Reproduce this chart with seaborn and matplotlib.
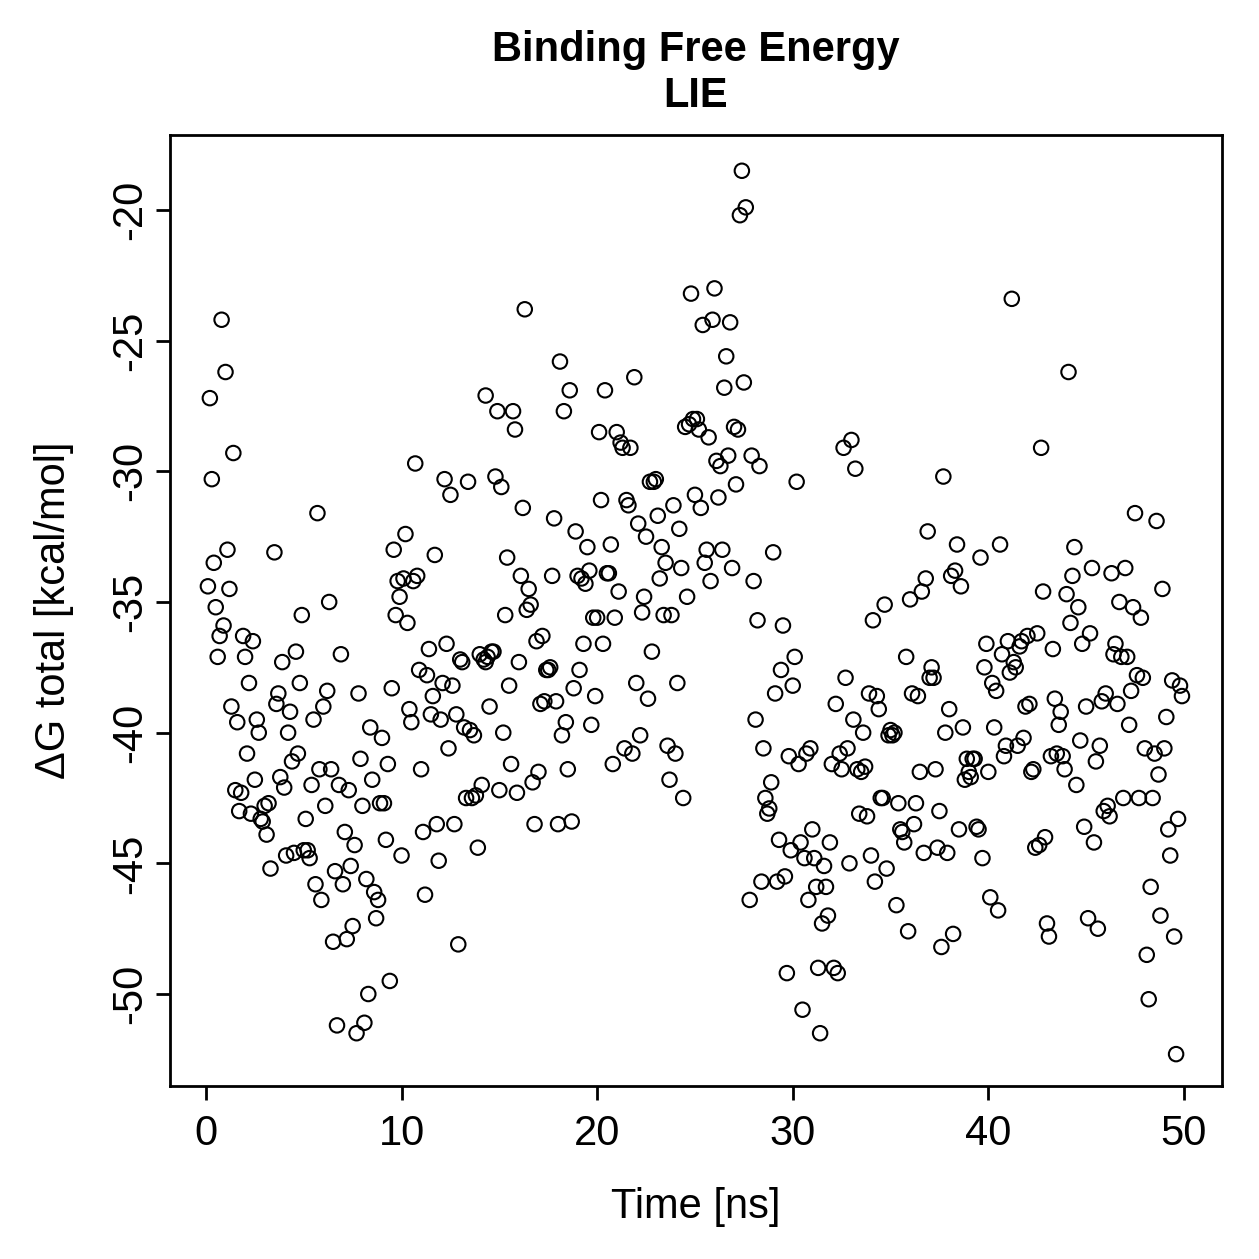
import numpy as np
import pandas as pd
import matplotlib
matplotlib.use("Agg")
import matplotlib.pyplot as plt
import seaborn as sns

# Time axis (ns) and LIE binding free energy (kcal/mol)
time_ns = [
    0.1, 0.2, 0.3, 0.4, 0.5, 0.6, 0.7, 0.8, 0.9, 1.0,
    1.1, 1.2, 1.3, 1.4, 1.5, 1.6, 1.7, 1.8, 1.9, 2.0,
    2.1, 2.2, 2.3, 2.4, 2.5, 2.6, 2.7, 2.8, 2.9, 3.0,
    3.1, 3.2, 3.3, 3.5, 3.6, 3.7, 3.8, 3.9, 4.0, 4.1,
    4.2, 4.3, 4.4, 4.5, 4.6, 4.7, 4.8, 4.9, 5.0, 5.1,
    5.2, 5.3, 5.4, 5.5, 5.6, 5.7, 5.8, 5.9, 6.0, 6.1,
    6.2, 6.3, 6.4, 6.5, 6.6, 6.7, 6.8, 6.9, 7.0, 7.1,
    7.2, 7.3, 7.4, 7.5, 7.6, 7.7, 7.8, 7.9, 8.0, 8.1,
    8.2, 8.3, 8.4, 8.5, 8.6, 8.7, 8.8, 8.9, 9.0, 9.1,
    9.2, 9.3, 9.4, 9.5, 9.6, 9.7, 9.8, 9.9, 10.0, 10.1,
    10.2, 10.3, 10.4, 10.5, 10.6, 10.7, 10.8, 10.9, 11.0, 11.1,
    11.2, 11.3, 11.4, 11.5, 11.6, 11.7, 11.8, 11.9, 12.0, 12.1,
    12.2, 12.3, 12.4, 12.5, 12.6, 12.7, 12.8, 12.9, 13.0, 13.1,
    13.2, 13.3, 13.4, 13.5, 13.6, 13.7, 13.8, 13.9, 14.0, 14.1,
    14.2, 14.3, 14.3, 14.4, 14.5, 14.6, 14.7, 14.8, 14.9, 15.0,
    15.1, 15.2, 15.3, 15.4, 15.5, 15.6, 15.7, 15.8, 15.9, 16.0,
    16.1, 16.2, 16.3, 16.4, 16.5, 16.6, 16.7, 16.8, 16.9, 17.0,
    17.1, 17.2, 17.3, 17.4, 17.5, 17.6, 17.7, 17.8, 17.9, 18.0,
    18.1, 18.2, 18.3, 18.4, 18.5, 18.6, 18.7, 18.8, 18.9, 19.0,
    19.1, 19.2, 19.3, 19.4, 19.5, 19.6, 19.7, 19.8, 19.9, 20.0,
    20.1, 20.2, 20.3, 20.4, 20.5, 20.6, 20.7, 20.8, 20.9, 21.0,
    21.1, 21.2, 21.3, 21.4, 21.5, 21.6, 21.7, 21.8, 21.9, 22.0,
    22.1, 22.2, 22.3, 22.4, 22.5, 22.6, 22.7, 22.8, 22.9, 23.0,
    23.1, 23.2, 23.3, 23.4, 23.5, 23.6, 23.7, 23.8, 23.9, 24.0,
    24.1, 24.2, 24.3, 24.4, 24.5, 24.6, 24.7, 24.8, 24.9, 25.0,
    25.1, 25.2, 25.3, 25.4, 25.5, 25.6, 25.7, 25.8, 25.9, 26.0,
    26.1, 26.2, 26.3, 26.4, 26.5, 26.6, 26.7, 26.8, 26.9, 27.0,
    27.1, 27.2, 27.3, 27.4, 27.5, 27.6, 27.8, 27.9, 28.0, 28.1,
    28.2, 28.3, 28.4, 28.5, 28.6, 28.7, 28.8, 28.9, 29.0, 29.1,
    29.2, 29.3, 29.4, 29.5, 29.6, 29.7, 29.8, 29.9, 30.0, 30.1,
    30.2, 30.3, 30.4, 30.5, 30.6, 30.7, 30.8, 30.9, 31.0, 31.1,
    31.2, 31.3, 31.4, 31.5, 31.6, 31.7, 31.8, 31.9, 32.0, 32.1,
    32.2, 32.3, 32.4, 32.5, 32.6, 32.7, 32.8, 32.9, 33.0, 33.1,
    33.2, 33.3, 33.4, 33.5, 33.6, 33.7, 33.8, 33.9, 34.0, 34.1,
    34.2, 34.3, 34.4, 34.5, 34.6, 34.7, 34.8, 34.9, 35.0, 35.1,
    35.2, 35.3, 35.4, 35.5, 35.6, 35.7, 35.8, 35.9, 36.0, 36.1,
    36.2, 36.3, 36.4, 36.5, 36.6, 36.7, 36.8, 36.9, 37.0, 37.1,
    37.2, 37.3, 37.4, 37.5, 37.6, 37.7, 37.8, 37.9, 38.0, 38.1,
    38.2, 38.3, 38.4, 38.5, 38.6, 38.7, 38.8, 38.9, 39.0, 39.1,
    39.2, 39.3, 39.4, 39.5, 39.6, 39.7, 39.8, 39.9, 40.0, 40.1,
    40.2, 40.3, 40.4, 40.5, 40.6, 40.7, 40.8, 40.9, 41.0, 41.1,
    41.2, 41.3, 41.4, 41.5, 41.6, 41.7, 41.8, 41.9, 42.0, 42.1,
    42.2, 42.3, 42.4, 42.5, 42.6, 42.7, 42.8, 42.9, 43.0, 43.1,
    43.2, 43.3, 43.4, 43.5, 43.6, 43.7, 43.8, 43.9, 44.0, 44.1,
    44.2, 44.3, 44.4, 44.5, 44.6, 44.7, 44.8, 44.9, 45.0, 45.1,
    45.2, 45.3, 45.4, 45.5, 45.6, 45.7, 45.8, 45.9, 46.0, 46.1,
    46.2, 46.3, 46.4, 46.5, 46.6, 46.7, 46.8, 46.9, 47.0, 47.1,
    47.2, 47.3, 47.4, 47.5, 47.6, 47.7, 47.8, 47.9, 48.0, 48.1,
    48.2, 48.3, 48.4, 48.5, 48.6, 48.7, 48.8, 48.9, 49.0, 49.1,
    49.2, 49.3, 49.4, 49.5, 49.6, 49.7, 49.8, 49.9,
]

dg_total = [
    -34.4, -27.2, -30.3, -33.5, -35.2, -37.1, -36.3, -24.2, -35.9, -26.2,
    -33.0, -34.5, -39.0, -29.3, -42.2, -39.6, -43.0, -42.3, -36.3, -37.1,
    -40.8, -38.1, -43.1, -36.5, -41.8, -39.5, -40.0, -43.3, -43.4, -42.8,
    -43.9, -42.7, -45.2, -33.1, -38.9, -38.5, -41.7, -37.3, -42.1, -44.7,
    -40.0, -39.2, -41.1, -44.6, -36.9, -40.8, -38.1, -35.5, -44.5, -43.3,
    -44.5, -44.8, -42.0, -39.5, -45.8, -31.6, -41.4, -46.4, -39.0, -42.8,
    -38.4, -35.0, -41.4, -48.0, -45.3, -51.2, -42.0, -37.0, -45.8, -43.8,
    -47.9, -42.2, -45.1, -47.4, -44.3, -51.5, -38.5, -41.0, -42.8, -51.1,
    -45.6, -50.0, -39.8, -41.8, -46.1, -47.1, -46.4, -42.7, -40.2, -42.7,
    -44.1, -41.2, -49.5, -38.3, -33.0, -35.5, -34.2, -34.8, -44.7, -34.1,
    -32.4, -35.8, -39.1, -39.6, -34.2, -29.7, -34.0, -37.6, -41.4, -43.8,
    -46.2, -37.8, -36.8, -39.3, -38.6, -33.2, -43.5, -44.9, -39.5, -38.1,
    -30.3, -36.6, -40.6, -30.9, -38.2, -43.5, -39.3, -48.1, -37.2, -37.3,
    -39.8, -42.5, -30.4, -39.9, -42.5, -40.1, -42.4, -44.4, -37.0, -42.0,
    -37.2, -27.1, -37.3, -37.1, -39.0, -36.9, -36.9, -30.2, -27.7, -42.2,
    -30.6, -40.0, -35.5, -33.3, -38.2, -41.2, -27.7, -28.4, -42.3, -37.3,
    -34.0, -31.4, -23.8, -35.3, -34.5, -35.1, -41.9, -43.5, -36.5, -41.5,
    -38.9, -36.3, -38.8, -37.6, -37.6, -37.5, -34.0, -31.8, -38.8, -43.5,
    -25.8, -40.1, -27.7, -39.6, -41.4, -26.9, -43.4, -38.3, -32.3, -34.0,
    -37.6, -34.1, -36.6, -34.3, -32.9, -33.8, -39.7, -35.6, -38.6, -35.6,
    -28.5, -31.1, -36.6, -26.9, -33.9, -33.9, -32.8, -41.2, -35.6, -28.5,
    -34.6, -28.9, -29.1, -40.6, -31.1, -31.3, -29.1, -40.8, -26.4, -38.1,
    -32.0, -40.1, -35.4, -34.8, -32.5, -38.7, -30.4, -36.9, -30.4, -30.3,
    -31.7, -34.1, -32.9, -35.5, -33.5, -40.5, -41.8, -35.5, -31.3, -40.8,
    -38.1, -32.2, -33.7, -42.5, -28.3, -34.8, -28.2, -23.2, -28.0, -30.9,
    -28.0, -28.4, -31.4, -24.4, -33.5, -33.0, -28.7, -34.2, -24.2, -23.0,
    -29.6, -31.0, -29.8, -33.0, -26.8, -25.6, -29.4, -24.3, -33.7, -28.3,
    -30.5, -28.4, -20.2, -18.5, -26.6, -19.9, -46.4, -29.4, -34.2, -39.5,
    -35.7, -29.8, -45.7, -40.6, -42.5, -43.1, -42.9, -41.9, -33.1, -38.5,
    -45.7, -44.1, -37.6, -35.9, -45.5, -49.2, -40.9, -44.5, -38.2, -37.1,
    -30.4, -41.2, -44.2, -50.6, -44.8, -40.8, -46.4, -40.6, -43.7, -44.8,
    -45.9, -49.0, -51.5, -47.3, -45.1, -45.9, -47.0, -44.2, -41.2, -49.0,
    -38.9, -49.2, -40.8, -41.4, -29.1, -37.9, -40.6, -45.0, -28.8, -39.5,
    -29.9, -41.4, -43.1, -41.5, -40.0, -41.3, -43.2, -38.5, -44.7, -35.7,
    -45.7, -38.6, -39.1, -42.5, -42.5, -35.1, -45.2, -40.1, -39.9, -40.1,
    -40.0, -46.6, -42.7, -43.7, -43.8, -44.2, -37.1, -47.6, -34.9, -38.5,
    -43.5, -42.7, -38.6, -41.5, -34.6, -44.6, -34.1, -32.3, -37.9, -37.5,
    -37.9, -41.4, -44.4, -43.0, -48.2, -30.2, -40.0, -44.6, -39.1, -34.0,
    -47.7, -33.8, -32.8, -43.7, -34.4, -39.8, -41.8, -41.0, -41.5, -41.7,
    -41.0, -41.0, -43.6, -43.7, -33.3, -44.8, -37.5, -36.6, -41.5, -46.3,
    -38.1, -39.8, -38.4, -46.8, -32.8, -37.0, -40.9, -40.5, -36.5, -37.7,
    -23.4, -37.3, -37.5, -40.5, -36.7, -36.5, -40.2, -39.0, -36.3, -38.9,
    -41.5, -41.4, -44.4, -36.2, -44.3, -29.1, -34.6, -44.0, -47.3, -47.8,
    -40.9, -36.8, -38.7, -40.8, -39.7, -39.2, -40.9, -41.4, -34.7, -26.2,
    -35.8, -34.0, -32.9, -42.0, -35.2, -40.3, -36.6, -43.6, -39.0, -47.1,
    -36.2, -33.7, -44.2, -41.1, -47.5, -40.5, -38.8, -43.0, -38.5, -42.8,
    -43.2, -33.9, -37.0, -36.6, -38.9, -35.0, -37.1, -42.5, -33.7, -37.1,
    -39.7, -38.4, -35.2, -31.6, -37.8, -42.5, -35.6, -37.9, -40.6, -48.5,
    -50.2, -45.9, -42.5, -40.8, -31.9, -41.6, -47.0, -34.5, -40.6, -39.4,
    -43.7, -44.7, -38.0, -47.8, -52.3, -43.3, -38.2, -38.6,
]

x_ticks = [0, 10, 20, 30, 40, 50]
y_ticks = [-20, -25, -30, -35, -40, -45, -50]

df = pd.DataFrame({"time": time_ns, "dg": dg_total})

FONT = 15

sns.set_style("ticks")
plt.rcParams["font.family"] = ["Liberation Sans", "DejaVu Sans"]
plt.rcParams["axes.unicode_minus"] = False
plt.rcParams["text.color"] = "black"
plt.rcParams["axes.labelcolor"] = "black"

fig = plt.figure(figsize=(1259 / 200, 1259 / 200), dpi=200)
ax = fig.add_axes([0.135, 0.1374, 0.8355, 0.7554])

sns.scatterplot(data=df, x="time", y="dg", ax=ax, marker="o", s=27,
                facecolors="none", edgecolor="black", linewidth=0.75)

ax.set_xlim(-1.84, 51.94)
ax.set_ylim(-53.52, -17.13)
ax.set_xticks(x_ticks)
ax.set_yticks(y_ticks)
ax.set_xticklabels([str(t) for t in x_ticks])
ax.set_yticklabels([str(t) for t in y_ticks], rotation=90, va="center")

for side in ["top", "bottom", "left", "right"]:
    ax.spines[side].set_visible(True)
    ax.spines[side].set_color("black")
    ax.spines[side].set_linewidth(1.0)

ax.tick_params(axis="both", direction="out", length=5, width=1.0,
               labelsize=FONT, colors="black")
ax.tick_params(axis="x", pad=5)
ax.tick_params(axis="y", pad=2)

ax.set_xlabel("Time [ns]", fontsize=FONT, labelpad=12, color="black")
ax.set_ylabel("\u0394G total [kcal/mol]", fontsize=FONT, labelpad=13, color="black")
ax.set_title("Binding Free Energy\nLIE", fontsize=FONT, fontweight="bold",
             pad=10, color="black")

fig.savefig("out.png", dpi=200, facecolor="white")
plt.close(fig)
